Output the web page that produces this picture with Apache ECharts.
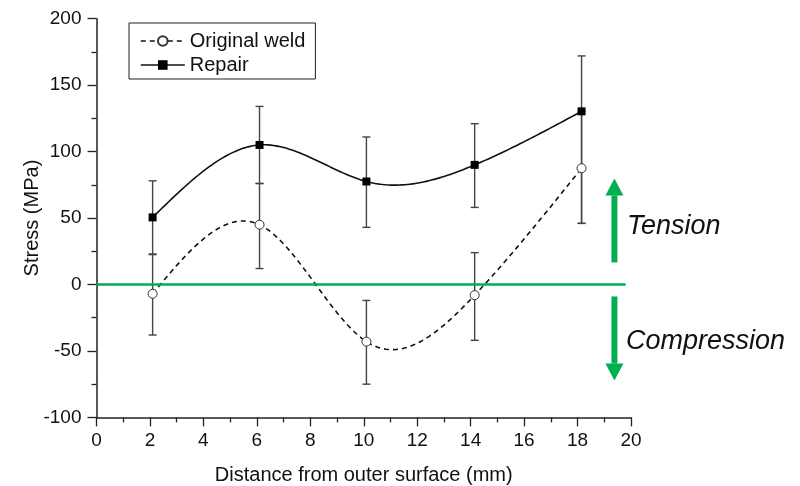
<!DOCTYPE html>
<html><head><meta charset="utf-8">
<script src="https://cdn.jsdelivr.net/npm/echarts@6/dist/echarts.min.js"></script>
<style>html,body{margin:0;padding:0;background:#fff}#c{width:800px;height:486px}</style>
</head><body><div id="c"></div>
<script>
const xPos = [2.1, 6.1, 10.1, 14.15, 18.15];
const repair = [50.5, 105, 77.5, 90, 130.3];
const repairLow = [23, 76, 43, 58, 46];
const repairHigh = [78, 134, 111, 121, 172];
const original = [-7, 45, -43, -8, 87.5];
const originalLow = [-38, 12, -75, -42, 46];
const originalHigh = [22.5, 76, -12, 24, 130];
const seriesNames = ['Original weld', 'Repair'];
const xTitle = 'Distance from outer surface (mm)';
const yTitle = 'Stress (MPa)';
const zeroLineEnd = 19.8;
const arrowX = 19.38;
const tensionArrow = [16.6, 67, 79.8];      // tail, head base, tip (MPa)
const compressionArrow = [-9, -59.5, -72.3];
const tensionLabel = 'Tension';
const compressionLabel = 'Compression';

const FONT = 'Liberation Sans, Arial, Helvetica, sans-serif';
const chart = echarts.init(document.getElementById('c'), null, {renderer: 'canvas'});

function errData(low, high) { return xPos.map((x, i) => [x, low[i], high[i]]); }
function errRender(params, api) {
  const x = api.value(0);
  const lo = api.coord([x, api.value(1)]);
  const hi = api.coord([x, api.value(2)]);
  const hw = 4;
  const st = {stroke: '#444', lineWidth: 1.4};
  return {type: 'group', children: [
    {type: 'line', shape: {x1: lo[0], y1: lo[1], x2: hi[0], y2: hi[1]}, style: st},
    {type: 'line', shape: {x1: lo[0]-hw, y1: lo[1], x2: lo[0]+hw, y2: lo[1]}, style: st},
    {type: 'line', shape: {x1: hi[0]-hw, y1: hi[1], x2: hi[0]+hw, y2: hi[1]}, style: st}
  ]};
}

// natural cubic spline through the data points (render-time geometry)
function splineFn(xs, ys) {
  const n = xs.length, h = [], a = [], l = [1], mu = [0], z = [0], c = new Array(n).fill(0), b = [], d = [];
  for (let i = 0; i < n - 1; i++) h[i] = xs[i+1] - xs[i];
  for (let i = 1; i < n - 1; i++) a[i] = 3/h[i]*(ys[i+1]-ys[i]) - 3/h[i-1]*(ys[i]-ys[i-1]);
  for (let i = 1; i < n - 1; i++) {
    l[i] = 2*(xs[i+1]-xs[i-1]) - h[i-1]*mu[i-1];
    mu[i] = h[i]/l[i];
    z[i] = (a[i] - h[i-1]*z[i-1]) / l[i];
  }
  for (let j = n - 2; j >= 0; j--) {
    c[j] = (j > 0 ? z[j] - mu[j]*c[j+1] : 0);
    b[j] = (ys[j+1]-ys[j])/h[j] - h[j]*(c[j+1] + 2*c[j])/3;
    d[j] = (c[j+1]-c[j])/(3*h[j]);
  }
  return function (x) {
    let j = 0;
    while (j < n - 2 && x > xs[j+1]) j++;
    const t = x - xs[j];
    return ys[j] + b[j]*t + c[j]*t*t + d[j]*t*t*t;
  };
}
function curveRender(dashed) {
  return function (params, api) {
    if (params.dataIndexInside !== 0) return null;
    const n = params.dataInsideLength, xs = [], ys = [];
    for (let i = 0; i < n; i++) { xs.push(api.value(0, i)); ys.push(api.value(1, i)); }
    const f = splineFn(xs, ys), pts = [], steps = 160;
    for (let k = 0; k <= steps; k++) {
      const x = xs[0] + (xs[n-1]-xs[0])*k/steps;
      pts.push(api.coord([x, f(x)]));
    }
    return {type: 'polyline', shape: {points: pts}, style: {fill: null, stroke: '#111', lineWidth: 1.6, lineDash: dashed ? [5, 4] : null}};
  };
}

const axisCommon = {
  axisLine: {show: true, onZero: false, lineStyle: {color: '#222', width: 1.5}},
  axisTick: {show: true, inside: false, length: 9, lineStyle: {color: '#222', width: 1.3}},
  minorTick: {show: true, splitNumber: 2, length: 5, lineStyle: {color: '#222', width: 1.3}},
  splitLine: {show: false},
  nameMoveOverlap: false,
  nameTextStyle: {fontFamily: FONT, fontSize: 20, color: '#111'}
};

chart.setOption({
  animation: false,
  backgroundColor: '#fff',
  grid: {left: 96.5, right: 169, top: 18.7, bottom: 68.6, outerBoundsMode: 'none', containLabel: false},
  legend: {
    data: [
      {name: seriesNames[0], lineStyle: {color: '#111', width: 1.6, type: [5, 4], opacity: 1}},
      {name: seriesNames[1], lineStyle: {color: '#111', width: 1.6, type: 'solid', opacity: 1}}
    ],
    orient: 'vertical',
    left: 129, top: 23,
    padding: [8, 10, 4, 11],
    itemGap: 4,
    itemWidth: 44, itemHeight: 12,
    borderColor: '#222', borderWidth: 1,
    textStyle: {fontFamily: FONT, fontSize: 20, color: '#111'}
  },
  xAxis: Object.assign({}, axisCommon, {
    type: 'value', min: 0, max: 20, interval: 2,
    name: xTitle, nameLocation: 'middle', nameGap: 48,
    axisLabel: {fontFamily: FONT, fontSize: 19, color: '#111', margin: 14}
  }),
  yAxis: Object.assign({}, axisCommon, {
    type: 'value', min: -100, max: 200, interval: 50,
    name: yTitle, nameLocation: 'middle', nameGap: 54,
    axisLabel: {fontFamily: FONT, fontSize: 19, color: '#111', margin: 15}
  }),
  series: [
    {name: 'errOriginal', type: 'custom', data: errData(originalLow, originalHigh), renderItem: errRender, z: 1, silent: true},
    {name: 'errRepair', type: 'custom', data: errData(repairLow, repairHigh), renderItem: errRender, z: 1, silent: true},
    {name: 'curveOriginal', type: 'custom', data: xPos.map((x, i) => [x, original[i]]), renderItem: curveRender(true), z: 2, silent: true},
    {name: 'curveRepair', type: 'custom', data: xPos.map((x, i) => [x, repair[i]]), renderItem: curveRender(false), z: 2, silent: true},
    {
      name: seriesNames[0], type: 'line', z: 3,
      data: xPos.map((x, i) => [x, original[i]]),
      symbol: 'circle', symbolSize: 9,
      itemStyle: {color: '#fff', borderColor: '#333', borderWidth: 1},
      lineStyle: {color: '#111', width: 1.6, type: [5, 4], opacity: 0},
      markLine: {
        silent: true, symbol: ['none', 'none'], label: {show: false},
        lineStyle: {color: '#00b050', width: 2.6, type: 'solid', opacity: 1},
        data: [[{coord: [0, 0]}, {coord: [zeroLineEnd, 0]}]]
      }
    },
    {
      name: seriesNames[1], type: 'line', z: 4,
      data: xPos.map((x, i) => [x, repair[i]]),
      symbol: 'rect', symbolSize: 8,
      itemStyle: {color: '#000'},
      lineStyle: {color: '#111', width: 1.6, opacity: 0}
    }
  ]
});

function px(v) { return chart.convertToPixel({gridIndex: 0}, v); }
function arrow(vals) {
  const tail = px([arrowX, vals[0]]), base = px([arrowX, vals[1]]), tip = px([arrowX, vals[2]]);
  const sw = 3, hw = 9;
  return [
    {type: 'rect', shape: {x: tail[0]-sw, y: Math.min(tail[1], base[1]), width: 2*sw, height: Math.abs(tail[1]-base[1])}, style: {fill: '#00b050'}},
    {type: 'polygon', shape: {points: [[base[0]-hw, base[1]], [base[0]+hw, base[1]], [tip[0], tip[1]]]}, style: {fill: '#00b050'}}
  ];
}
const tPos = px([arrowX, 44]);
const cPos = px([arrowX, -43]);
chart.setOption({
  graphic: [].concat(arrow(tensionArrow), arrow(compressionArrow), [
    {type: 'text', x: 627, y: tPos[1], style: {text: tensionLabel, fontFamily: FONT, fontStyle: 'italic', fontSize: 27, fill: '#111', verticalAlign: 'middle'}},
    {type: 'text', x: 626, y: cPos[1], style: {text: compressionLabel, fontFamily: FONT, fontStyle: 'italic', fontSize: 27, fill: '#111', verticalAlign: 'middle'}}
  ])
});
</script></body></html>
